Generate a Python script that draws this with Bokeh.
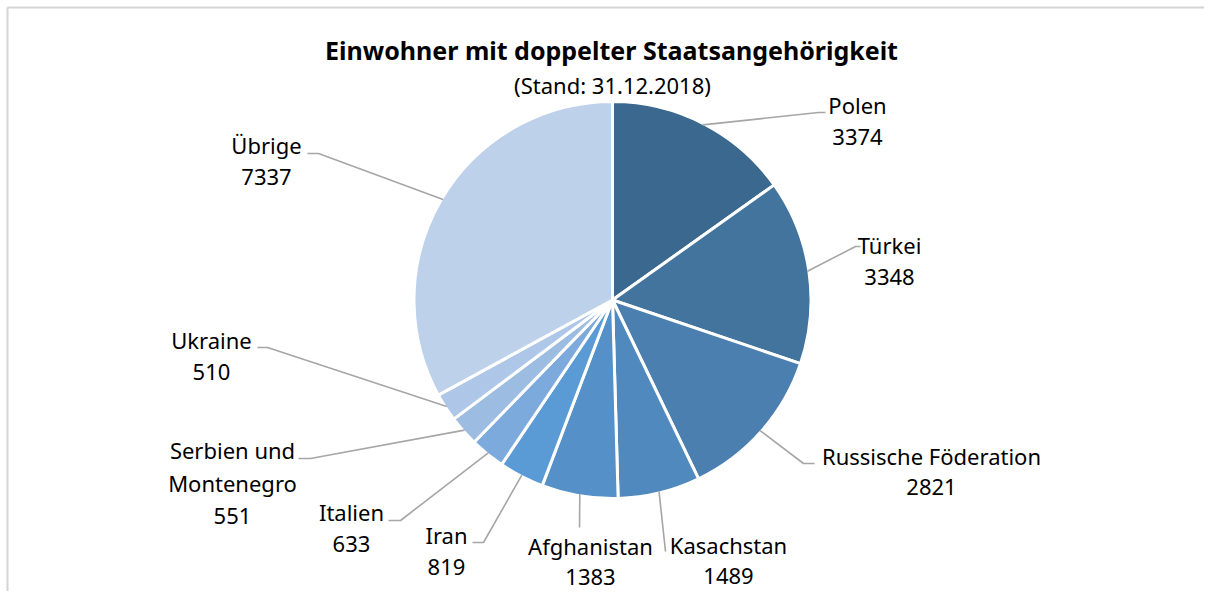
import math
from bokeh.plotting import figure
from bokeh.models import Range1d
from bokeh.core.properties import value
from bokeh.embed import file_html
from bokeh.resources import INLINE

# ---- data ----
countries = ["Polen", "Türkei", "Russische Föderation", "Kasachstan", "Afghanistan",
             "Iran", "Italien", "Serbien und Montenegro", "Ukraine", "Übrige"]
label_text = [["Polen"], ["Türkei"], ["Russische Föderation"], ["Kasachstan"], ["Afghanistan"],
              ["Iran"], ["Italien"], ["Serbien und", "Montenegro"], ["Ukraine"], ["Übrige"]]
counts = [3374, 3348, 2821, 1489, 1383, 819, 633, 551, 510, 7337]
colors = ["#3A688E", "#43749E", "#4A7FB0", "#5089BD", "#5591C8",
          "#5B9BD5", "#7DAADD", "#9DBCE2", "#AEC7E8", "#BED1EA"]
title = "Einwohner mit doppelter Staatsangehörigkeit"
subtitle = "(Stand: 31.12.2018)"

# ---- layout (pixel coordinates from top-left) ----
W, H = 1204, 591
CX, CY, R = 612, 299.5, 198.5
TDY = -9  # correction so that rendered baselines land on the intended rows
lab_x = [857, 889, 931, 728, 590, 446, 351, 232, 211, 266]
lab_y = [113, 253, 464, 553, 554, 543, 520, 458, 348, 153]
line_gap = [32, 32, 31, 31, 31, 32, 32, 33, 32, 32]
elbow = [(818, 112), (855, 246), (803, 463), (665, 551), (579, 527),
         (483, 542), (400, 520), (310, 458), (267, 347), (318, 153)]
end = [(825, 112), (860, 246), (814, 463), (665, 551), (579, 527),
       (472, 542), (388, 520), (298, 458), (257, 347), (307, 153)]


def Y(py):
    return H - py


p = figure(width=W, height=H, x_range=Range1d(0, W), y_range=Range1d(0, H),
           output_backend="svg", toolbar_location=None, min_border=0)
p.axis.visible = False
p.grid.visible = False
p.outline_line_color = None
p.background_fill_color = "white"
p.border_fill_color = "white"

# frame
p.segment(x0=[7, 7], y0=[Y(7), Y(7)], x1=[7, W], y1=[0, Y(7)],
          line_color="#D4D4D4", line_width=2)

total = sum(counts)
starts, ends, mids = [], [], []
cum = 0
for v in counts:
    a0 = cum / total * 2 * math.pi
    cum += v
    a1 = cum / total * 2 * math.pi
    starts.append(math.pi / 2 - a0)
    ends.append(math.pi / 2 - a1)
    mids.append((a0 + a1) / 2)

p.wedge(x=[CX] * len(counts), y=[Y(CY)] * len(counts), radius=R, radius_units="screen",
        start_angle=starts, end_angle=ends, direction="clock",
        fill_color=colors, line_color="white", line_width=3)

# leader lines
r_rim = R - 1.5
xs, ys = [], []
for m, e1, e2 in zip(mids, elbow, end):
    sx = CX + r_rim * math.sin(m)
    sy = CY - r_rim * math.cos(m)
    xs.append([sx, e1[0], e2[0]])
    ys.append([Y(sy), Y(e1[1]), Y(e2[1])])
p.multi_line(xs=xs, ys=ys, line_color="#A6A6A6", line_width=1.6)

# labels
tx, ty, tt = [], [], []
for lines, v, x, y, g in zip(label_text, counts, lab_x, lab_y, line_gap):
    for i, s in enumerate(lines + [str(v)]):
        tx.append(x)
        ty.append(Y(y + i * g + TDY))
        tt.append(s)
p.text(x=tx, y=ty, text=tt, text_font=value("Noto Sans"), text_font_size="22px",
       text_align="center", text_baseline="alphabetic", text_color="#000000")

p.text(x=[611], y=[Y(58 + TDY)], text=[title], text_font=value("Noto Sans"),
       text_font_size="25px", text_font_style="bold", text_align="center",
       text_baseline="alphabetic", text_color="#000000")
p.text(x=[612], y=[Y(93 + TDY)], text=[subtitle], text_font=value("Noto Sans"),
       text_font_size="22px", text_align="center", text_baseline="alphabetic",
       text_color="#000000")

open("out.html", "w").write(file_html(p, INLINE))
